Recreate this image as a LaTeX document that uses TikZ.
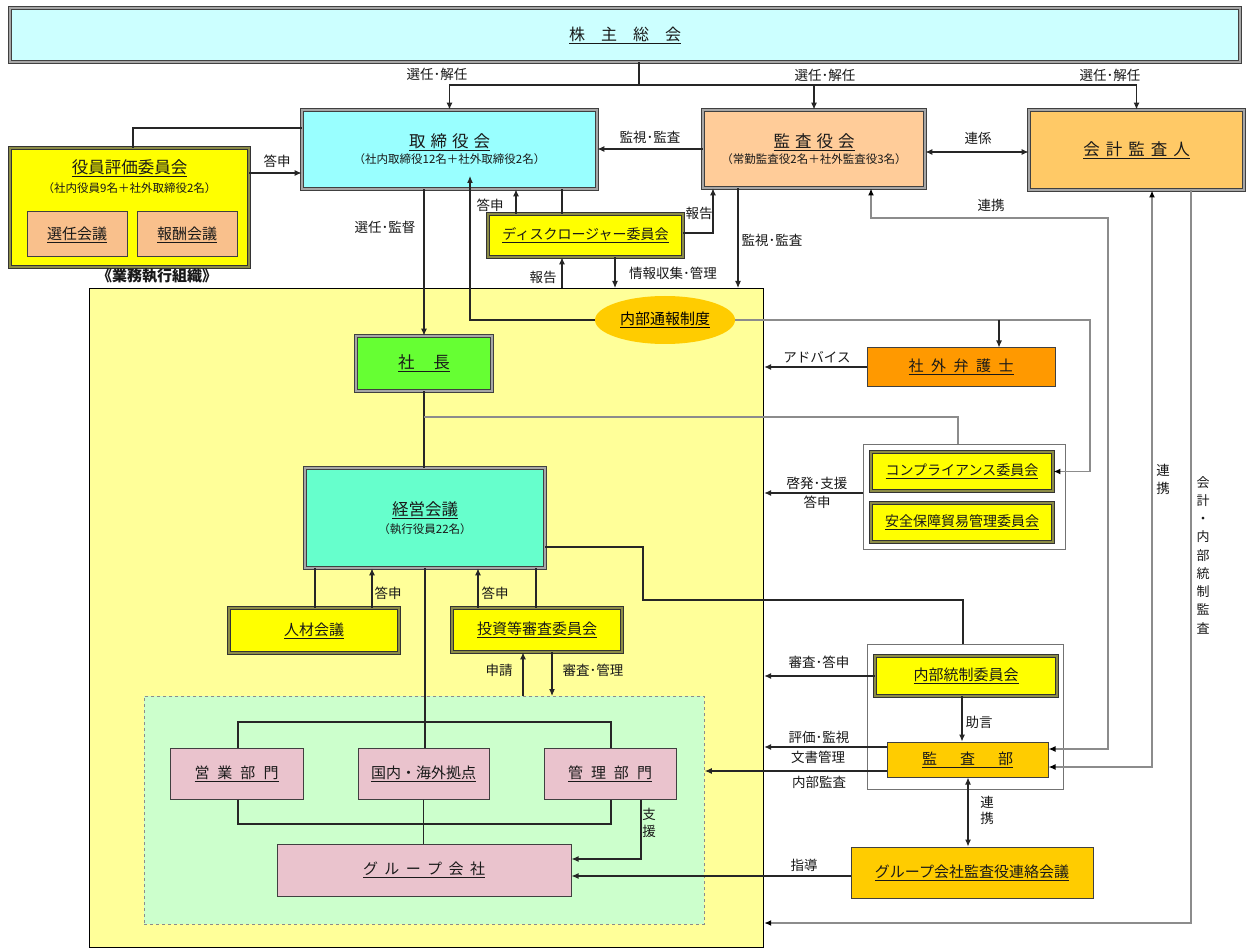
\documentclass[tikz,border=0pt]{standalone}
\usepackage{fontspec}
\setmainfont{Noto Sans CJK JP}
\usetikzlibrary{arrows.meta,shapes.geometric,calc}
\definecolor{cKab}{HTML}{CCFFFF}
\definecolor{cTori}{HTML}{99FFFF}
\definecolor{cKansa}{HTML}{FFCC99}
\definecolor{cKaikei}{HTML}{FFC966}
\definecolor{cYel}{HTML}{FFFF00}
\definecolor{cInner}{HTML}{F9C08C}
\definecolor{cArea}{HTML}{FFFF99}
\definecolor{cGold}{HTML}{FFCC00}
\definecolor{cShacho}{HTML}{66FF33}
\definecolor{cBeng}{HTML}{FF9900}
\definecolor{cKeiei}{HTML}{66FFCC}
\definecolor{cGreen}{HTML}{CCFFCC}
\definecolor{cPink}{HTML}{EAC3CD}
\definecolor{cOlive}{HTML}{8C8C46}
\newcommand\fT{\fontsize{16}{19}\selectfont}
\newcommand\fB{\fontsize{16.5}{20}\selectfont}
\newcommand\fM{\fontsize{15}{18}\selectfont}
\newcommand\fD{\fontsize{14}{17}\selectfont}
\newcommand\fS{\fontsize{11.5}{14}\selectfont}
\newcommand\fL{\fontsize{13.5}{16}\selectfont}
\newcommand\uln[1]{\underline{#1}}
\begin{document}
\begin{tikzpicture}[x=1pt,y=-1pt,
  box/.style={rectangle, inner sep=0pt, align=center, text=black!90},
  dbox/.style={box, draw=black!75, line width=0.9pt, double=black!35, double distance=1.3pt},
  ybox/.style={box, draw=black!80, line width=0.9pt, double=cOlive, double distance=1.3pt, fill=cYel},
  sbox/.style={box, draw=black!75, line width=1pt},
  gbox/.style={box, draw=black!55, line width=1pt, fill=white, anchor=north west},
  ln/.style={draw=black!85, line width=1.1pt},
  gln/.style={draw=black!45, line width=1.7pt},
  arr/.style={ln, -{Latex[length=7pt,width=6pt]}},
  arr2/.style={ln, {Latex[length=7pt,width=6pt]}-{Latex[length=7pt,width=6pt]}},
  garr/.style={gln, -{Latex[length=7pt,width=6pt,color=black]}},
  garr2/.style={gln, {Latex[length=7pt,width=6pt,color=black]}-{Latex[length=7pt,width=6pt,color=black]}},
  lab/.style={font=\fL, inner sep=0pt, text=black!90},
  vlab/.style={inner sep=0pt, text=black!90, align=center}
]
\useasboundingbox (0,0) rectangle (1247,949);
\fill[white] (0,0) rectangle (1247,949);

% ---------- top level ----------
\node[dbox, fill=cKab, minimum width=1230pt, minimum height=54pt] (kab) at (625,35) {\fT\uln{株　主　総　会}};
\node[dbox, fill=cTori, minimum width=295pt, minimum height=79pt] (tori) at (449.5,149.5)
  {\fB\uln{取\hspace{5pt}締\hspace{5pt}役\hspace{5pt}会}\\[2pt]\fS（社内取締役12名＋社外取締役2名）};
\node[dbox, fill=cKansa, minimum width=222pt, minimum height=78pt] (kyaku) at (814,149)
  {\fB\uln{監\hspace{5pt}査\hspace{5pt}役\hspace{5pt}会}\\[2pt]\fS（常勤監査役2名＋社外監査役3名）};
\node[dbox, fill=cKaikei, minimum width=215pt, minimum height=80pt] (kaikei) at (1136.5,150)
  {\fB\uln{会\hspace{6pt}計\hspace{6pt}監\hspace{6pt}査\hspace{6pt}人}};

% evaluation committee
\node[box, draw=black!80, line width=0.9pt, double=cOlive, double distance=1.3pt, fill=cYel,
  minimum width=239pt, minimum height=119pt] (hyoka) at (129.5,207.5) {};
\node[box] (hyokaT) at (129.5,168) {\fontsize{16.5}{19}\selectfont\uln{役員評価委員会}};
\node[box] (hyokaS) at (129.5,188) {\fS（社内役員9名＋社外取締役2名）};
\node[sbox, fill=cInner, minimum width=100pt, minimum height=45pt] (senin) at (77,234.5) {\fM\uln{選任会議}};
\node[sbox, fill=cInner, minimum width=100pt, minimum height=45pt] (hoshu) at (187,234.5) {\fM\uln{報酬会議}};

% disclosure
\node[ybox, minimum width=195pt, minimum height=43pt] (disc) at (585.5,235.5) {\fD\uln{ディスクロージャー委員会}};

% ---------- execution area ----------
\node[box, draw=black, line width=1.2pt, fill=cArea, minimum width=674pt, minimum height=659pt, anchor=north west] (gyomu) at (89,288) {};
\node[lab, font=\fontsize{15}{18}\selectfont\bfseries] (gyomuL) at (157,276) {《業務執行組織》};
\node[box, draw=black!45, dashed, line width=0.8pt, fill=cGreen, minimum width=560pt, minimum height=228pt, anchor=north west] (green) at (144,696) {};

\node[ellipse, fill=cGold, minimum width=140pt, minimum height=48pt, inner sep=0pt] (naibu) at (665,320) {\fM\uln{内部通報制度}};
\node[dbox, fill=cShacho, minimum width=136pt, minimum height=55pt] (shacho) at (424,363.5) {\fB\uln{社\hspace{19pt}長}};
\node[dbox, fill=cKeiei, minimum width=240pt, minimum height=100pt] (keiei) at (425,518)
  {\fB\uln{経営会議}\\[3pt]\fS（執行役員22名）};
\node[ybox, minimum width=170pt, minimum height=45pt] (jinzai) at (314,630.5) {\fM\uln{人材会議}};
\node[ybox, minimum width=170pt, minimum height=44pt] (toushi) at (537,630) {\fM\uln{投資等審査委員会}};

\node[sbox, fill=cPink, minimum width=133pt, minimum height=51pt] (eigyo) at (236.5,773.5) {\fM\uln{営\hspace{8pt}業\hspace{8pt}部\hspace{8pt}門}};
\node[sbox, fill=cPink, minimum width=131pt, minimum height=51pt] (kokunai) at (423.5,773.5) {\fM\uln{国内・海外拠点}};
\node[sbox, fill=cPink, minimum width=132pt, minimum height=51pt] (kanri) at (610,773.5) {\fM\uln{管\hspace{8pt}理\hspace{8pt}部\hspace{8pt}門}};
\node[sbox, fill=cPink, minimum width=294pt, minimum height=52pt] (group) at (424,870)
  {\fM\uln{グ\hspace{6.4pt}ル\hspace{6.4pt}ー\hspace{6.4pt}プ\hspace{6.4pt}会\hspace{6.4pt}社}};

% ---------- right side ----------
\node[sbox, fill=cBeng, minimum width=188pt, minimum height=38pt] (beng) at (961,367)
  {\fM\uln{社\hspace{7.5pt}外\hspace{7.5pt}弁\hspace{7.5pt}護\hspace{7.5pt}士}};
\node[gbox, minimum width=202pt, minimum height=105pt] (compout) at (863,444) {};
\node[ybox, minimum width=182pt, minimum height=39pt] (comp) at (962,471.5) {\fD\uln{コンプライアンス委員会}};
\node[ybox, minimum width=182pt, minimum height=39pt] (anzen) at (962,522.5) {\fD\uln{安全保障貿易管理委員会}};
\node[gbox, minimum width=196pt, minimum height=145pt] (icout) at (867,644) {};
\node[ybox, minimum width=182pt, minimum height=40pt] (naibutousei) at (966,676) {\fM\uln{内部統制委員会}};
\node[sbox, fill=cGold, minimum width=161pt, minimum height=35pt] (kansabu) at (967.5,759.5)
  {\fM\uln{監\hspace{23pt}査\hspace{23pt}部}};
\node[sbox, fill=cGold, minimum width=242pt, minimum height=51pt] (grkansa) at (972,872.5) {\fM\uln{グループ会社監査役連絡会議}};

% ---------- connectors ----------
\coordinate (j0) at (639,85);
\draw[ln] (kab.south -| j0) -- (j0);
\draw[arr] (j0) -| (tori.north);
\draw[arr] (j0) -| (kaikei.north);
\draw[arr] (kyaku.north |- j0) -- (kyaku.north);
\node[lab] (l1) at (437,74) {選任･解任};
\node[lab] (l2) at (825,75) {選任･解任};
\node[lab] (l3) at (1110,75) {選任･解任};

\draw[arr] (kyaku.west) -- (kyaku.west -| tori.east);
\node[lab] (l4) at (650,137) {監視･監査};
\draw[arr2] ($(kyaku.east)+(0,3)$) -- ($(kyaku.east -| kaikei.west)+(0,3)$);
\node[lab] (l5) at (978,138) {連係};

\draw[arr] (hyoka.east |- 0,173) -- (tori.west |- 0,173);
\node[lab] (l6) at (277,161) {答申};
\draw[ln] (133,0 |- hyoka.north) |- (tori.west |- 0,128);

\draw[arr] (shacho.north |- tori.south) -- (shacho.north);
\node[lab] (l7) at (385,227) {選任･監督};

\draw[arr] (516,0 |- disc.north) -- (516,0 |- tori.south);
\node[lab] (l8) at (490,205) {答申};
\draw[ln] (562,0 |- disc.north) -- (562,0 |- tori.south);
\draw[arr] (disc.east |- 0,233) -| (713,0 |- kyaku.south);
\node[lab] (l9) at (699,213) {報告};
\draw[arr] (562,0 |- gyomu.north) -- (562,0 |- disc.south);
\node[lab] (l10) at (543,277) {報告};
\draw[arr] (615,0 |- disc.south) -- (615,0 |- gyomu.north);
\node[lab] (l11) at (673,273) {情報収集･管理};
\draw[arr] (738,0 |- kyaku.south) -- (738,0 |- gyomu.north);
\node[lab] (l12) at (772,240) {監視･監査};

\coordinate (toriIn) at (470,176);
\draw[arr] (naibu.west) -| (toriIn);
\draw[garr] (naibu.east) -| (1090,0 |- comp.east) -- (comp.east);
\draw[arr] (999,0 |- naibu.east) -- (999,0 |- beng.north);
\draw[arr] (beng.west) -- (beng.west -| gyomu.east);
\node[lab] (l13) at (817,357) {アドバイス};

\draw[ln] (shacho.south) -- (shacho.south |- keiei.north);
\draw[gln] (shacho.south |- 0,417) -| (958,0 |- compout.north);
\draw[arr] (compout.west |- 0,493) -- (gyomu.east |- 0,493);
\node[lab] (l14) at (817,483) {啓発･支援};
\node[lab] (l15) at (817,502) {答申};

\coordinate (k1) at (643,600);
\draw[ln] (keiei.east |- 0,547) -| (k1) -| (963,0 |- icout.north);

\draw[ln] (315,0 |- jinzai.north) -- (315,0 |- keiei.south);
\draw[arr] (372,0 |- jinzai.north) -- (372,0 |- keiei.south);
\node[lab] (l16) at (388,593) {答申};
\draw[arr] (478,0 |- toushi.north) -- (478,0 |- keiei.south);
\node[lab] (l17) at (495,593) {答申};
\draw[ln] (536,0 |- toushi.north) -- (536,0 |- keiei.south);
\draw[ln] (keiei.south) -- (keiei.south |- kokunai.north);

\draw[arr] (523,0 |- green.north) -- (523,0 |- toushi.south);
\node[lab] (l18) at (499,670) {申請};
\draw[arr] (552,0 |- toushi.south) -- (552,0 |- green.north);
\node[lab] (l19) at (593,670) {審査･管理};

\draw[ln] (238,0 |- eigyo.north) |- (611,722) -- (611,0 |- kanri.north);
\draw[ln] (238,0 |- eigyo.south) |- (611,824) -- (611,0 |- kanri.south);
\draw[ln] (kokunai.south) -- (kokunai.south |- group.north);
\draw[arr] (641,0 |- kanri.south) |- (group.east |- 0,859);
\node[vlab, font=\fontsize{13.5}{17}\selectfont] (l20) at (649,823) {支\\援};
\draw[arr] (grkansa.west |- 0,876) -- (group.east |- 0,876);
\node[lab] (l21) at (804,865) {指導};

\draw[arr] (naibutousei.west) -- (naibutousei.west -| gyomu.east);
\node[lab] (l22) at (819,662) {審査･答申};
\draw[arr] (962,0 |- naibutousei.south) -- (962,0 |- kansabu.north);
\node[lab] (l23) at (979,722) {助言};
\draw[arr] (kansabu.west |- 0,747) -- (gyomu.east |- 0,747);
\node[lab] (l24) at (819,737) {評価･監視};
\node[lab] (l25) at (818,757) {文書管理};
\draw[arr] (kansabu.west |- 0,771) -- (green.east |- 0,771);
\node[lab] (l26) at (819,782) {内部監査};

\draw[garr2] (871,0 |- kyaku.south) |- (1108,218) |- (kansabu.east |- 0,749);
\node[lab] (l27) at (991,205) {連携};
\draw[garr2] (1152,0 |- kaikei.south) |- (kansabu.east |- 0,767);
\node[vlab, font=\fontsize{13.5}{18}\selectfont] (l28) at (1163,479) {連\\携};
\draw[garr] (1191,0 |- kaikei.south) |- (gyomu.east |- 0,923);
\node[vlab, font=\fontsize{13}{18.25}\selectfont] (l29) at (1203,555) {会\\計\\・\\内\\部\\統\\制\\監\\査};
\draw[arr2] (968,0 |- kansabu.south) -- (968,0 |- grkansa.north);
\node[vlab, font=\fontsize{13.5}{16}\selectfont] (l30) at (987,810) {連\\携};
\end{tikzpicture}
\end{document}
